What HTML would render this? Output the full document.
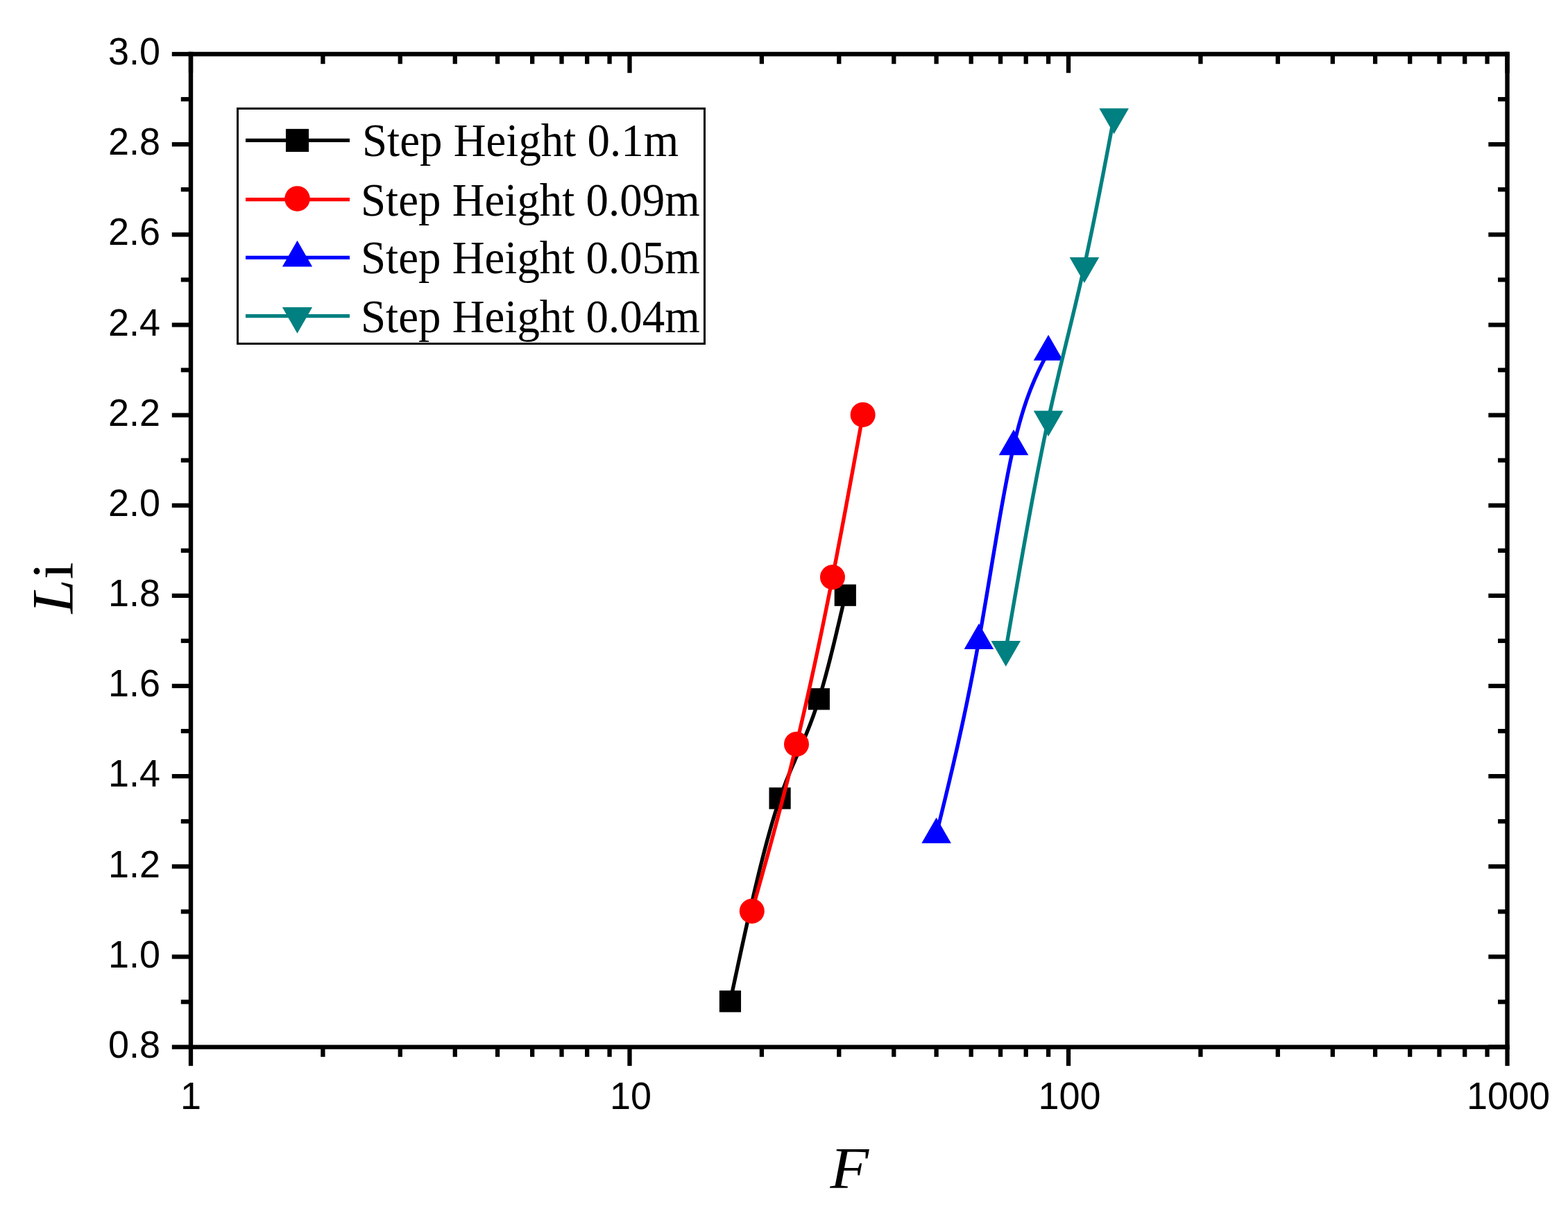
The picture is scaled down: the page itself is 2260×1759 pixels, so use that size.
<!DOCTYPE html>
<html lang="en"><head><meta charset="utf-8"><title>Li versus F for different step heights</title>
<style>
html,body{margin:0;padding:0;background:#fff;}
body{width:2260px;height:1759px;overflow:hidden;}
svg{display:block;}
.tick{font-family:"Liberation Sans",sans-serif;font-size:54px;fill:#000;}
.leg{font-family:"Liberation Serif",serif;font-size:68px;fill:#000;}
.ttl{font-family:"Liberation Serif",serif;font-size:86px;fill:#000;}
</style></head><body>
<svg width="2260" height="1759" viewBox="0 0 2260 1759">
<rect x="0" y="0" width="2260" height="1759" fill="#ffffff"/>
<g stroke="#000" stroke-width="6.4" fill="none" stroke-linecap="butt">
<line x1="275.0" y1="74.8" x2="275.0" y2="1512.8"/>
<line x1="2172.5" y1="74.8" x2="2172.5" y2="1512.8"/>
<line x1="271.8" y1="78.0" x2="2175.7" y2="78.0"/>
<line x1="271.8" y1="1509.6" x2="2175.7" y2="1509.6"/>
</g>
<g stroke="#000" stroke-width="6.3" fill="none" stroke-linecap="butt">
<line x1="247.8" y1="1509.6" x2="275" y2="1509.6"/>
<line x1="2172.5" y1="1509.6" x2="2145.3" y2="1509.6"/>
<line x1="260.8" y1="1444.53" x2="275" y2="1444.53"/>
<line x1="2172.5" y1="1444.53" x2="2159" y2="1444.53"/>
<line x1="247.8" y1="1379.45" x2="275" y2="1379.45"/>
<line x1="2172.5" y1="1379.45" x2="2145.3" y2="1379.45"/>
<line x1="260.8" y1="1314.38" x2="275" y2="1314.38"/>
<line x1="2172.5" y1="1314.38" x2="2159" y2="1314.38"/>
<line x1="247.8" y1="1249.31" x2="275" y2="1249.31"/>
<line x1="2172.5" y1="1249.31" x2="2145.3" y2="1249.31"/>
<line x1="260.8" y1="1184.24" x2="275" y2="1184.24"/>
<line x1="2172.5" y1="1184.24" x2="2159" y2="1184.24"/>
<line x1="247.8" y1="1119.16" x2="275" y2="1119.16"/>
<line x1="2172.5" y1="1119.16" x2="2145.3" y2="1119.16"/>
<line x1="260.8" y1="1054.09" x2="275" y2="1054.09"/>
<line x1="2172.5" y1="1054.09" x2="2159" y2="1054.09"/>
<line x1="247.8" y1="989.02" x2="275" y2="989.02"/>
<line x1="2172.5" y1="989.02" x2="2145.3" y2="989.02"/>
<line x1="260.8" y1="923.95" x2="275" y2="923.95"/>
<line x1="2172.5" y1="923.95" x2="2159" y2="923.95"/>
<line x1="247.8" y1="858.87" x2="275" y2="858.87"/>
<line x1="2172.5" y1="858.87" x2="2145.3" y2="858.87"/>
<line x1="260.8" y1="793.8" x2="275" y2="793.8"/>
<line x1="2172.5" y1="793.8" x2="2159" y2="793.8"/>
<line x1="247.8" y1="728.73" x2="275" y2="728.73"/>
<line x1="2172.5" y1="728.73" x2="2145.3" y2="728.73"/>
<line x1="260.8" y1="663.65" x2="275" y2="663.65"/>
<line x1="2172.5" y1="663.65" x2="2159" y2="663.65"/>
<line x1="247.8" y1="598.58" x2="275" y2="598.58"/>
<line x1="2172.5" y1="598.58" x2="2145.3" y2="598.58"/>
<line x1="260.8" y1="533.51" x2="275" y2="533.51"/>
<line x1="2172.5" y1="533.51" x2="2159" y2="533.51"/>
<line x1="247.8" y1="468.44" x2="275" y2="468.44"/>
<line x1="2172.5" y1="468.44" x2="2145.3" y2="468.44"/>
<line x1="260.8" y1="403.36" x2="275" y2="403.36"/>
<line x1="2172.5" y1="403.36" x2="2159" y2="403.36"/>
<line x1="247.8" y1="338.29" x2="275" y2="338.29"/>
<line x1="2172.5" y1="338.29" x2="2145.3" y2="338.29"/>
<line x1="260.8" y1="273.22" x2="275" y2="273.22"/>
<line x1="2172.5" y1="273.22" x2="2159" y2="273.22"/>
<line x1="247.8" y1="208.15" x2="275" y2="208.15"/>
<line x1="2172.5" y1="208.15" x2="2145.3" y2="208.15"/>
<line x1="260.8" y1="143.07" x2="275" y2="143.07"/>
<line x1="2172.5" y1="143.07" x2="2159" y2="143.07"/>
<line x1="247.8" y1="78" x2="275" y2="78"/>
<line x1="2172.5" y1="78" x2="2145.3" y2="78"/>
<line x1="275" y1="1509.6" x2="275" y2="1536.8"/>
<line x1="275" y1="78" x2="275" y2="105.2"/>
<line x1="465.4" y1="1509.6" x2="465.4" y2="1523.8"/>
<line x1="465.4" y1="78" x2="465.4" y2="92.2"/>
<line x1="576.78" y1="1509.6" x2="576.78" y2="1523.8"/>
<line x1="576.78" y1="78" x2="576.78" y2="92.2"/>
<line x1="655.8" y1="1509.6" x2="655.8" y2="1523.8"/>
<line x1="655.8" y1="78" x2="655.8" y2="92.2"/>
<line x1="717.1" y1="1509.6" x2="717.1" y2="1523.8"/>
<line x1="717.1" y1="78" x2="717.1" y2="92.2"/>
<line x1="767.18" y1="1509.6" x2="767.18" y2="1523.8"/>
<line x1="767.18" y1="78" x2="767.18" y2="92.2"/>
<line x1="809.52" y1="1509.6" x2="809.52" y2="1523.8"/>
<line x1="809.52" y1="78" x2="809.52" y2="92.2"/>
<line x1="846.2" y1="1509.6" x2="846.2" y2="1523.8"/>
<line x1="846.2" y1="78" x2="846.2" y2="92.2"/>
<line x1="878.56" y1="1509.6" x2="878.56" y2="1523.8"/>
<line x1="878.56" y1="78" x2="878.56" y2="92.2"/>
<line x1="907.5" y1="1509.6" x2="907.5" y2="1536.8"/>
<line x1="907.5" y1="78" x2="907.5" y2="105.2"/>
<line x1="1097.9" y1="1509.6" x2="1097.9" y2="1523.8"/>
<line x1="1097.9" y1="78" x2="1097.9" y2="92.2"/>
<line x1="1209.28" y1="1509.6" x2="1209.28" y2="1523.8"/>
<line x1="1209.28" y1="78" x2="1209.28" y2="92.2"/>
<line x1="1288.3" y1="1509.6" x2="1288.3" y2="1523.8"/>
<line x1="1288.3" y1="78" x2="1288.3" y2="92.2"/>
<line x1="1349.6" y1="1509.6" x2="1349.6" y2="1523.8"/>
<line x1="1349.6" y1="78" x2="1349.6" y2="92.2"/>
<line x1="1399.68" y1="1509.6" x2="1399.68" y2="1523.8"/>
<line x1="1399.68" y1="78" x2="1399.68" y2="92.2"/>
<line x1="1442.02" y1="1509.6" x2="1442.02" y2="1523.8"/>
<line x1="1442.02" y1="78" x2="1442.02" y2="92.2"/>
<line x1="1478.7" y1="1509.6" x2="1478.7" y2="1523.8"/>
<line x1="1478.7" y1="78" x2="1478.7" y2="92.2"/>
<line x1="1511.06" y1="1509.6" x2="1511.06" y2="1523.8"/>
<line x1="1511.06" y1="78" x2="1511.06" y2="92.2"/>
<line x1="1540" y1="1509.6" x2="1540" y2="1536.8"/>
<line x1="1540" y1="78" x2="1540" y2="105.2"/>
<line x1="1730.4" y1="1509.6" x2="1730.4" y2="1523.8"/>
<line x1="1730.4" y1="78" x2="1730.4" y2="92.2"/>
<line x1="1841.78" y1="1509.6" x2="1841.78" y2="1523.8"/>
<line x1="1841.78" y1="78" x2="1841.78" y2="92.2"/>
<line x1="1920.8" y1="1509.6" x2="1920.8" y2="1523.8"/>
<line x1="1920.8" y1="78" x2="1920.8" y2="92.2"/>
<line x1="1982.1" y1="1509.6" x2="1982.1" y2="1523.8"/>
<line x1="1982.1" y1="78" x2="1982.1" y2="92.2"/>
<line x1="2032.18" y1="1509.6" x2="2032.18" y2="1523.8"/>
<line x1="2032.18" y1="78" x2="2032.18" y2="92.2"/>
<line x1="2074.52" y1="1509.6" x2="2074.52" y2="1523.8"/>
<line x1="2074.52" y1="78" x2="2074.52" y2="92.2"/>
<line x1="2111.2" y1="1509.6" x2="2111.2" y2="1523.8"/>
<line x1="2111.2" y1="78" x2="2111.2" y2="92.2"/>
<line x1="2143.56" y1="1509.6" x2="2143.56" y2="1523.8"/>
<line x1="2143.56" y1="78" x2="2143.56" y2="92.2"/>
<line x1="2172.5" y1="1509.6" x2="2172.5" y2="1536.8"/>
<line x1="2172.5" y1="78" x2="2172.5" y2="105.2"/>
</g>
<g class="tick" text-anchor="end">
<text transform="translate(231,1524.8) scale(1,1.045)">0.8</text>
<text transform="translate(231,1394.65) scale(1,1.045)">1.0</text>
<text transform="translate(231,1264.51) scale(1,1.045)">1.2</text>
<text transform="translate(231,1134.36) scale(1,1.045)">1.4</text>
<text transform="translate(231,1004.22) scale(1,1.045)">1.6</text>
<text transform="translate(231,874.07) scale(1,1.045)">1.8</text>
<text transform="translate(231,743.93) scale(1,1.045)">2.0</text>
<text transform="translate(231,613.78) scale(1,1.045)">2.2</text>
<text transform="translate(231,483.64) scale(1,1.045)">2.4</text>
<text transform="translate(231,353.49) scale(1,1.045)">2.6</text>
<text transform="translate(231,223.35) scale(1,1.045)">2.8</text>
<text transform="translate(231,93.2) scale(1,1.045)">3.0</text>
</g>
<g class="tick" text-anchor="middle">
<text transform="translate(275,1599.2) scale(1,1.045)">1</text>
<text transform="translate(909,1599.2) scale(1,1.045)">10</text>
<text transform="translate(1541.5,1599.2) scale(1,1.045)">100</text>
<text transform="translate(2174,1599.2) scale(1,1.045)">1000</text>
</g>
<text class="ttl" transform="translate(105.2,884.5) rotate(-90) scale(1.03,0.99)"><tspan font-style="italic">L</tspan>i</text>
<text class="ttl" font-style="italic" transform="translate(1196.5,1712.8) scale(1.06,0.98)">F</text>
<g>
<path d="M1052.45,1443.76 L1054.84,1432.6 L1057.23,1421.45 L1059.61,1410.32 L1062,1399.21 L1064.39,1388.14 L1066.78,1377.12 L1069.16,1366.16 L1071.55,1355.26 L1073.94,1344.44 L1076.33,1333.7 L1078.72,1323.05 L1081.1,1312.51 L1083.49,1302.08 L1085.88,1291.77 L1088.27,1281.59 L1090.65,1271.55 L1093.04,1261.66 L1095.43,1251.93 L1097.82,1242.37 L1100.2,1232.99 L1102.59,1223.79 L1104.98,1214.79 L1107.37,1206 L1109.76,1197.42 L1112.14,1189.07 L1114.53,1180.95 L1116.92,1173.07 L1119.31,1165.44 L1121.69,1158.08 L1124.08,1150.99 L1125.96,1145.61 L1127.83,1140.4 L1129.71,1135.33 L1131.58,1130.4 L1133.46,1125.59 L1135.33,1120.89 L1137.21,1116.28 L1139.08,1111.76 L1140.96,1107.31 L1142.83,1102.92 L1144.71,1098.58 L1146.58,1094.27 L1148.46,1089.98 L1150.33,1085.69 L1152.21,1081.41 L1154.09,1077.1 L1155.96,1072.77 L1157.84,1068.39 L1159.71,1063.95 L1161.59,1059.45 L1163.46,1054.87 L1165.34,1050.19 L1167.21,1045.4 L1169.09,1040.5 L1170.96,1035.46 L1172.84,1030.28 L1174.71,1024.94 L1176.59,1019.44 L1178.46,1013.74 L1180.34,1007.86 L1181.6,1003.77 L1182.87,999.59 L1184.13,995.33 L1185.4,990.97 L1186.66,986.54 L1187.93,982.03 L1189.19,977.44 L1190.46,972.77 L1191.72,968.04 L1192.99,963.25 L1194.25,958.38 L1195.52,953.46 L1196.78,948.49 L1198.05,943.45 L1199.31,938.37 L1200.58,933.24 L1201.84,928.07 L1203.11,922.85 L1204.37,917.6 L1205.64,912.31 L1206.9,906.99 L1208.17,901.65 L1209.43,896.27 L1210.7,890.88 L1211.96,885.46 L1213.23,880.03 L1214.49,874.59 L1215.76,869.14 L1217.02,863.68 L1218.29,858.22" fill="none" stroke="#000000" stroke-width="5.4" stroke-linejoin="round" stroke-linecap="butt"/>
<rect x="1036.85" y="1428.16" width="31.2" height="31.2" fill="#000000"/>
<rect x="1108.48" y="1135.39" width="31.2" height="31.2" fill="#000000"/>
<rect x="1164.74" y="992.26" width="31.2" height="31.2" fill="#000000"/>
<rect x="1202.69" y="842.62" width="31.2" height="31.2" fill="#000000"/>
</g>
<g>
<path d="M1083.81,1313.64 L1085.95,1306.04 L1088.09,1298.45 L1090.23,1290.84 L1092.37,1283.23 L1094.51,1275.6 L1096.65,1267.96 L1098.79,1260.31 L1100.92,1252.63 L1103.06,1244.93 L1105.2,1237.21 L1107.34,1229.46 L1109.48,1221.67 L1111.62,1213.85 L1113.76,1206 L1115.9,1198.1 L1118.04,1190.16 L1120.18,1182.18 L1122.31,1174.14 L1124.45,1166.06 L1126.59,1157.92 L1128.73,1149.73 L1130.87,1141.47 L1133.01,1133.15 L1135.15,1124.77 L1137.29,1116.31 L1139.43,1107.79 L1141.57,1099.19 L1143.71,1090.51 L1145.84,1081.76 L1147.98,1072.92 L1149.72,1065.7 L1151.45,1058.42 L1153.18,1051.08 L1154.91,1043.69 L1156.65,1036.24 L1158.38,1028.74 L1160.11,1021.18 L1161.85,1013.57 L1163.58,1005.9 L1165.31,998.18 L1167.04,990.4 L1168.78,982.56 L1170.51,974.67 L1172.24,966.73 L1173.98,958.73 L1175.71,950.67 L1177.44,942.56 L1179.17,934.4 L1180.91,926.18 L1182.64,917.9 L1184.37,909.58 L1186.1,901.19 L1187.84,892.76 L1189.57,884.27 L1191.3,875.72 L1193.04,867.13 L1194.77,858.47 L1196.5,849.77 L1198.23,841.01 L1199.97,832.2 L1201.42,824.75 L1202.88,817.26 L1204.34,809.74 L1205.79,802.19 L1207.25,794.6 L1208.71,786.98 L1210.16,779.33 L1211.62,771.66 L1213.07,763.95 L1214.53,756.22 L1215.99,748.46 L1217.44,740.68 L1218.9,732.88 L1220.36,725.06 L1221.81,717.21 L1223.27,709.35 L1224.73,701.47 L1226.18,693.57 L1227.64,685.66 L1229.1,677.73 L1230.55,669.79 L1232.01,661.84 L1233.47,653.88 L1234.92,645.91 L1236.38,637.93 L1237.83,629.95 L1239.29,621.96 L1240.75,613.97 L1242.2,605.98 L1243.66,597.98" fill="none" stroke="#ff0000" stroke-width="5.4" stroke-linejoin="round" stroke-linecap="butt"/>
<circle cx="1083.81" cy="1313.64" r="18" fill="#ff0000"/>
<circle cx="1147.98" cy="1072.92" r="18" fill="#ff0000"/>
<circle cx="1199.97" cy="832.2" r="18" fill="#ff0000"/>
<circle cx="1243.66" cy="597.98" r="18" fill="#ff0000"/>
</g>
<g>
<path d="M1349.6,1203.04 L1351.64,1194.75 L1353.68,1186.45 L1355.73,1178.13 L1357.77,1169.8 L1359.81,1161.44 L1361.86,1153.04 L1363.9,1144.61 L1365.94,1136.12 L1367.99,1127.58 L1370.03,1118.98 L1372.07,1110.31 L1374.12,1101.56 L1376.16,1092.73 L1378.2,1083.81 L1380.25,1074.8 L1382.29,1065.68 L1384.33,1056.45 L1386.38,1047.1 L1388.42,1037.63 L1390.46,1028.03 L1392.51,1018.29 L1394.55,1008.4 L1396.59,998.36 L1398.63,988.17 L1400.68,977.81 L1402.72,967.27 L1404.76,956.56 L1406.81,945.66 L1408.85,934.57 L1410.89,923.28 L1412.56,913.9 L1414.23,904.4 L1415.9,894.79 L1417.57,885.08 L1419.24,875.29 L1420.91,865.43 L1422.58,855.51 L1424.25,845.55 L1425.92,835.57 L1427.59,825.56 L1429.26,815.56 L1430.93,805.57 L1432.6,795.6 L1434.27,785.68 L1435.94,775.81 L1437.6,766.01 L1439.27,756.28 L1440.94,746.66 L1442.61,737.14 L1444.28,727.74 L1445.95,718.48 L1447.62,709.37 L1449.29,700.42 L1450.96,691.65 L1452.63,683.07 L1454.3,674.7 L1455.97,666.54 L1457.64,658.62 L1459.31,650.94 L1460.98,643.52 L1462.65,636.37 L1464.32,629.49 L1465.98,622.85 L1467.65,616.47 L1469.32,610.32 L1470.99,604.4 L1472.66,598.7 L1474.33,593.2 L1476,587.91 L1477.67,582.81 L1479.34,577.89 L1481.01,573.14 L1482.68,568.56 L1484.35,564.13 L1486.02,559.85 L1487.69,555.7 L1489.36,551.68 L1491.03,547.78 L1492.69,543.99 L1494.36,540.3 L1496.03,536.7 L1497.7,533.18 L1499.37,529.74 L1501.04,526.36 L1502.71,523.03 L1504.38,519.75 L1506.05,516.5 L1507.72,513.29 L1509.39,510.09 L1511.06,506.9" fill="none" stroke="#0000ff" stroke-width="5.4" stroke-linejoin="round" stroke-linecap="butt"/>
<polygon points="1349.6,1178.87 1370.9,1215.87 1328.3,1215.87" fill="#0000ff"/>
<polygon points="1410.89,899.11 1432.19,936.11 1389.59,936.11" fill="#0000ff"/>
<polygon points="1460.98,619.36 1482.28,656.36 1439.68,656.36" fill="#0000ff"/>
<polygon points="1511.06,482.73 1532.36,519.73 1489.76,519.73" fill="#0000ff"/>
</g>
<g>
<path d="M1449.76,936.29 L1451.81,924.43 L1453.85,912.58 L1455.89,900.73 L1457.94,888.91 L1459.98,877.1 L1462.02,865.32 L1464.07,853.57 L1466.11,841.86 L1468.15,830.2 L1470.19,818.58 L1472.24,807.01 L1474.28,795.5 L1476.32,784.06 L1478.37,772.69 L1480.41,761.39 L1482.45,750.17 L1484.5,739.03 L1486.54,727.99 L1488.58,717.04 L1490.63,706.2 L1492.67,695.46 L1494.71,684.83 L1496.76,674.32 L1498.8,663.93 L1500.84,653.67 L1502.89,643.55 L1504.93,633.56 L1506.97,623.72 L1509.02,614.02 L1511.06,604.49 L1512.79,596.54 L1514.52,588.7 L1516.24,580.96 L1517.97,573.31 L1519.7,565.75 L1521.43,558.27 L1523.16,550.86 L1524.89,543.51 L1526.62,536.22 L1528.34,528.97 L1530.07,521.77 L1531.8,514.61 L1533.53,507.47 L1535.26,500.35 L1536.99,493.24 L1538.72,486.15 L1540.44,479.04 L1542.17,471.93 L1543.9,464.81 L1545.63,457.66 L1547.36,450.48 L1549.09,443.26 L1550.82,436 L1552.54,428.68 L1554.27,421.31 L1556,413.86 L1557.73,406.35 L1559.46,398.75 L1561.19,391.06 L1562.92,383.28 L1564.34,376.79 L1565.76,370.23 L1567.19,363.61 L1568.61,356.92 L1570.04,350.18 L1571.46,343.37 L1572.89,336.51 L1574.31,329.59 L1575.74,322.63 L1577.16,315.61 L1578.59,308.55 L1580.01,301.44 L1581.44,294.29 L1582.86,287.1 L1584.29,279.88 L1585.71,272.61 L1587.13,265.32 L1588.56,258 L1589.98,250.64 L1591.41,243.27 L1592.83,235.86 L1594.26,228.44 L1595.68,221 L1597.11,213.54 L1598.53,206.07 L1599.96,198.59 L1601.38,191.09 L1602.81,183.6 L1604.23,176.09 L1605.66,168.58" fill="none" stroke="#008080" stroke-width="5.4" stroke-linejoin="round" stroke-linecap="butt"/>
<polygon points="1428.46,923.96 1471.06,923.96 1449.76,960.96" fill="#008080"/>
<polygon points="1489.76,592.15 1532.36,592.15 1511.06,629.15" fill="#008080"/>
<polygon points="1541.62,370.95 1584.22,370.95 1562.92,407.95" fill="#008080"/>
<polygon points="1584.36,156.25 1626.96,156.25 1605.66,193.25" fill="#008080"/>
</g>
<rect x="342.5" y="156.5" width="673" height="339" fill="#fff" stroke="#000" stroke-width="3"/>
<line x1="354" y1="202.4" x2="504" y2="202.4" stroke="#000000" stroke-width="5.4"/>
<rect x="411.96" y="185.86" width="33.07" height="33.07" fill="#000000"/>
<text class="leg" transform="translate(522,225.4) scale(0.955,1)">Step Height 0.1m</text>
<line x1="354" y1="287.6" x2="504" y2="287.6" stroke="#ff0000" stroke-width="5.4"/>
<circle cx="428.5" cy="286.4" r="18.27" fill="#ff0000"/>
<text class="leg" transform="translate(520,310.6) scale(0.955,1)">Step Height 0.09m</text>
<line x1="354" y1="371.4" x2="504" y2="371.4" stroke="#0000ff" stroke-width="5.4"/>
<polygon points="428.5,346.86 450.12,384.42 406.88,384.42" fill="#0000ff"/>
<text class="leg" transform="translate(520,394.4) scale(0.955,1)">Step Height 0.05m</text>
<line x1="354" y1="455.6" x2="504" y2="455.6" stroke="#008080" stroke-width="5.4"/>
<polygon points="406.88,443.08 450.12,443.08 428.5,480.64" fill="#008080"/>
<text class="leg" transform="translate(520,478.6) scale(0.955,1)">Step Height 0.04m</text>
</svg></body></html>
